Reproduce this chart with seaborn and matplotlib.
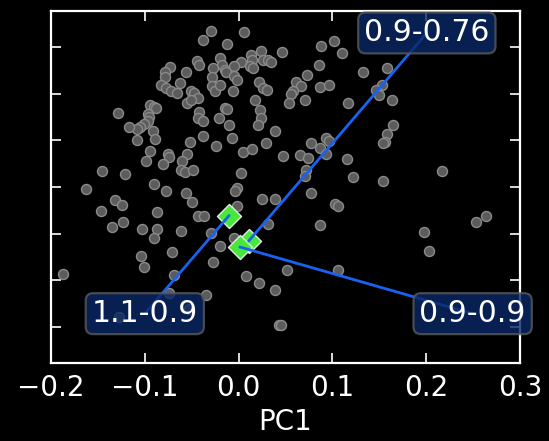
import matplotlib
matplotlib.use("Agg")
import matplotlib.pyplot as plt
import pandas as pd
import seaborn as sns

# Sample scores on the first two principal components
pc1 = [
    -0.0291, 0.0056, -0.0380, -0.0123, 0.0879, 0.1017, 0.1103, 0.0462, 0.0235, 0.0130,
    0.0138, 0.0119, 0.0153, -0.0201, -0.0175, -0.0145, -0.0130, 0.0030, -0.0045, 0.0261,
    0.0313, 0.0343, -0.0443, -0.0425, -0.0276, -0.0283, -0.0287, -0.0253, -0.0197, -0.0048,
    -0.0022, -0.0063, 0.0220, 0.0261, 0.0298, 0.0179, -0.0730, -0.0782, -0.0782, -0.0559,
    -0.0626, -0.0827, -0.0775, -0.0723, -0.0659, -0.0510, -0.0473, -0.0436, -0.0555, -0.0510,
    0.0857, 0.0730, 0.0615, 0.0670, 0.0581, 0.0555, 0.0536, 0.0704, 0.0864, 0.0961,
    0.1166, 0.1322, 0.1583, 0.1531, 0.1468, 0.1494, 0.1635, 0.1650, 0.1583, 0.1557,
    0.1538, 0.2168, 0.1538, -0.0942, -0.0898, -0.0879, -0.0968, -0.0954, -0.0968, -0.1006,
    -0.1047, -0.1084, -0.1170, -0.1285, -0.0913, -0.0890, -0.1084, -0.0421, -0.0428, -0.0384,
    -0.0145, -0.0119, -0.0209, -0.0104, 0.0227, 0.0235, 0.0209, -0.0376, -0.0071, -0.0514,
    -0.0242, 0.0045, 0.0145, 0.0287, 0.0391, 0.0469, -0.0946, -0.0756, -0.0745, -0.0551,
    -0.0987, -0.0801, -0.0607, -0.0615, -0.0574, -0.0481, 0.0030, -0.1453, -0.1207, -0.1628,
    -0.0898, -0.0775, -0.0562, -0.0492, -0.0022, -0.0037, 0.0250, 0.0384, 0.0775, 0.1024,
    0.1058, 0.0864, 0.0935, 0.0961, 0.0864, 0.0935, 0.0767, 0.0659, 0.0741, 0.0723,
    0.0711, 0.1151, 0.1222, -0.1471, -0.1315, -0.1244, -0.0875, -0.0436, -0.0365, -0.1348,
    -0.1229, -0.1028, -0.0875, -0.0898, -0.0611, -0.0291, -0.1043, -0.0711, -0.1006, -0.1874,
    -0.0693, -0.0276, -0.0745, -0.0350, -0.1270, -0.0525, -0.0022, 0.0309, -0.0201, -0.0048,
    0.0078, 0.0216, 0.0391, 0.0521, 0.1065, 0.0428, 0.0451, 0.2637, 0.2529, 0.1974,
    0.2034,
]
pc2 = [
    0.1670, 0.1663, 0.1581, 0.1535, 0.1517, 0.1567, 0.1439, 0.1446, 0.1461, 0.1418,
    0.1365, 0.1294, 0.1276, 0.1382, 0.1311, 0.1258, 0.1230, 0.1340, 0.1294, 0.1365,
    0.1365, 0.1340, 0.1354, 0.1311, 0.1276, 0.1183, 0.1080, 0.1034, 0.1091, 0.1187,
    0.1151, 0.1034, 0.1127, 0.1063, 0.1045, 0.0938, 0.1290, 0.1233, 0.1176, 0.1233,
    0.1112, 0.1091, 0.1063, 0.1034, 0.1006, 0.1034, 0.1009, 0.0949, 0.0903, 0.0928,
    0.1304, 0.1205, 0.1127, 0.1080, 0.1027, 0.0999, 0.0903, 0.0938, 0.1073, 0.1091,
    0.0896, 0.1230, 0.1276, 0.1098, 0.1045, 0.0991, 0.0931, 0.0665, 0.0565, 0.0487,
    0.0469, 0.0167, 0.0068, 0.0874, 0.0856, 0.0849, 0.0785, 0.0750, 0.0707, 0.0672,
    0.0643, 0.0618, 0.0643, 0.0792, 0.0601, 0.0519, 0.0505, 0.0807, 0.0743, 0.0707,
    0.0842, 0.0832, 0.0743, 0.0661, 0.0828, 0.0736, 0.0661, 0.0551, 0.0522, 0.0480,
    0.0441, 0.0377, 0.0405, 0.0469, 0.0601, 0.0330, 0.0384, 0.0352, 0.0327, 0.0352,
    0.0274, 0.0249, 0.0281, 0.0185, 0.0163, 0.0181, 0.0146, 0.0171, 0.0135, -0.0018,
    0.0032, -0.0043, -0.0060, -0.0160, -0.0011, -0.0039, -0.0128, -0.0128, -0.0064, -0.0181,
    -0.0206, -0.0409, 0.0529, 0.0494, 0.0416, 0.0352, 0.0469, 0.0345, 0.0316, 0.0181,
    0.0121, 0.0295, 0.0110, -0.0252, -0.0142, -0.0195, -0.0270, -0.0306, -0.0306, -0.0426,
    -0.0370, -0.0455, -0.0455, -0.0551, -0.0473, -0.0498, -0.0739, -0.0693, -0.0856, -0.0938,
    -0.0942, -0.0800, -0.1141, -0.1162, -0.1389, -0.1308, -0.0199, -0.0394, -0.0633, -0.0551,
    -0.0952, -0.1031, -0.1102, -0.0888, -0.0888, -0.1478, -0.1478, -0.0313, -0.0377, -0.0483,
    -0.0686,
]

# Group centroids and their labels
centroid_pc1 = [-0.0101, 0.0108, 0.0013]
centroid_pc2 = [-0.0306, -0.0579, -0.0643]
group_labels = ["1.1-0.9", "0.9-0.76", "0.9-0.9"]
label_pc1 = [-0.1000, 0.2007, 0.2495]
label_pc2 = [-0.1358, 0.1652, -0.1358]

x_ticks = [-0.2, -0.1, 0.0, 0.1, 0.2, 0.3]
y_ticks = [-0.15, -0.10, -0.05, 0.0, 0.05, 0.10, 0.15]

sns.set_style("dark", rc={
    "figure.facecolor": "black",
    "axes.facecolor": "black",
    "axes.edgecolor": "white",
    "text.color": "white",
    "axes.labelcolor": "white",
    "xtick.color": "white",
    "ytick.color": "white",
})
plt.rcParams["font.family"] = ["DejaVu Sans"]

fig = plt.figure(figsize=(5.49, 4.41), dpi=100)
ax = fig.add_axes([51 / 549, 1 - 363 / 441, 469 / 549, 352 / 441])

samples = pd.DataFrame({"PC1": pc1, "PC2": pc2})
centroids = pd.DataFrame({"PC1": centroid_pc1, "PC2": centroid_pc2})

sns.scatterplot(data=samples, x="PC1", y="PC2", ax=ax, s=52,
                color="#5c5c5c", edgecolor="#8a8a8a", linewidth=1.0,
                zorder=2)
sns.scatterplot(data=centroids, x="PC1", y="PC2", ax=ax, marker="D", s=150,
                color="#46e83a", edgecolor="#e8e8e8", linewidth=1.0,
                zorder=2.5)

for name, cx, cy, tx, ty in zip(group_labels, centroid_pc1, centroid_pc2,
                                label_pc1, label_pc2):
    ax.annotate(name, xy=(cx, cy), xytext=(tx, ty), textcoords="data",
                ha="center", va="center", fontsize=21.5, color="white",
                annotation_clip=False, zorder=4,
                bbox=dict(boxstyle="round,pad=0.2,rounding_size=0.25",
                          facecolor="#0a2766", edgecolor="#5a5a5a",
                          linewidth=1.6, alpha=0.8),
                arrowprops=dict(arrowstyle="-", color="#1862f2", lw=2.0,
                                patchA=None, shrinkA=0, shrinkB=0))

ax.set_xlim(-0.2, 0.3)
ax.set_ylim(-0.1887, 0.1887)
ax.set_xticks(x_ticks)
ax.set_xticklabels([f"{t:.1f}".replace("-", "\u2212") for t in x_ticks])
ax.set_yticks(y_ticks)
ax.set_yticklabels([])
ax.set_xlabel("PC1", fontsize=20, labelpad=4)
ax.set_ylabel("")
ax.tick_params(axis="both", which="major", direction="in", length=7, width=1.2,
               top=True, right=True, bottom=True, left=True,
               labelsize=20, pad=8)
for spine in ax.spines.values():
    spine.set_color("white")
    spine.set_linewidth(1.6)
ax.grid(False)

fig.savefig("out.png", dpi=100, facecolor="black")
